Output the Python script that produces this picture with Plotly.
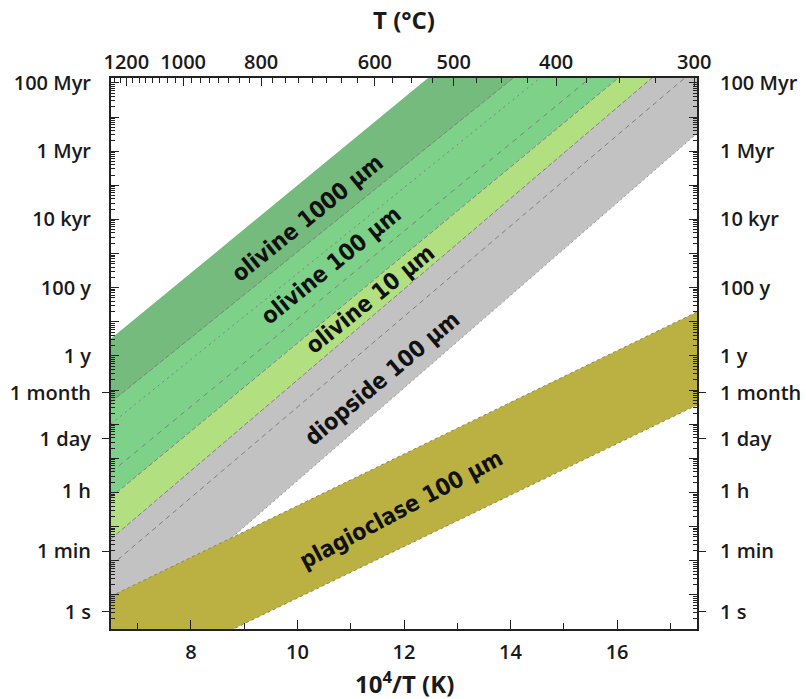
import math
import plotly.graph_objects as go

# ---------------- data ----------------
# x: 10^4/T (K); band edges given as log10(time / yr) at the two x ends
x_ends = [6.5, 17.5]
olivine_1000_upper = [0.50, 14.62]
olivine_1000_lower = [-1.35, 12.48]
olivine_100_dotted = [-1.99, 11.85]
olivine_100_dashed = [-3.41, 10.72]
olivine_10_upper = [-4.14, 10.05]
olivine_10_lower = [-5.36, 9.27]
diopside_mid = [-6.14, 8.45]
diopside_lower = [-8.40, 6.52]
plag_upper = [-7.04, 1.29]
plag_lower = [-9.73, -1.44]

bottom_ticks = [8, 10, 12, 14, 16]
bottom_minor = [7, 9, 11, 13, 15, 17]
top_T_C = [1200, 1000, 800, 600, 500, 400, 300]

time_labels = ['100 Myr', '1 Myr', '10 kyr', '100 y', '1 y', '1 month', '1 day', '1 h', '1 min', '1 s']
time_vals_yr = [1e8, 1e6, 1e4, 1e2, 1.0, 1 / 12, 10 ** -2.42, 1 / 8766, 1 / 525960, 1 / 31557600]
outside_tick_vals = [1 / 12, 10 ** -2.42, 1 / 525960, 1 / 31557600]

X_RANGE = [6.5, 17.5]
Y_RANGE = [-8.0, 8.143]

C_DARK = '#75BB7D'
C_MED = '#7ED189'
C_LIGHT = '#B2DF7F'
C_GRAY = '#C1C2C1'
C_PLAG = '#BBB143'
EDGE = '#808080'


def yr(v):
    return [10 ** a for a in v]


fig = go.Figure()


def band(upper, lower, color):
    u = yr(upper)
    l = yr(lower)
    fig.add_trace(go.Scatter(
        x=[x_ends[0], x_ends[1], x_ends[1], x_ends[0], x_ends[0]],
        y=[u[0], u[1], l[1], l[0], u[0]],
        fill='toself', fillcolor=color, mode='lines', line=dict(width=0),
        showlegend=False, hoverinfo='skip'))


def edge(vals, dash, color=EDGE, width=1):
    fig.add_trace(go.Scatter(
        x=x_ends, y=yr(vals), mode='lines',
        line=dict(color=color, width=width, dash=dash),
        showlegend=False, hoverinfo='skip'))


band(olivine_1000_upper, olivine_10_upper, C_MED)
band(olivine_1000_upper, olivine_1000_lower, C_DARK)
band(olivine_10_upper, olivine_10_lower, C_LIGHT)
band(olivine_10_lower, diopside_lower, C_GRAY)

edge(olivine_1000_lower, '5px,2px')
edge(olivine_100_dotted, '2px,4px')
edge(olivine_100_dashed, '5px,5px')
edge(olivine_10_upper, '5px,2px')
edge(olivine_10_lower, '5px,2px')
edge(diopside_mid, '5px,4px')
edge(diopside_lower, '2px,3px', '#9a9a9a')

band(plag_upper, plag_lower, C_PLAG)
edge(plag_upper, '3px,3px', '#8f8a40')
edge(plag_lower, '3px,3px', '#8f8a40')

# dummy traces to attach overlay axes
for ya in ['y2', 'y3', 'y4']:
    fig.add_trace(go.Scatter(x=[None], y=[None], yaxis=ya, showlegend=False, hoverinfo='skip'))
fig.add_trace(go.Scatter(x=[None], y=[None], xaxis='x2', showlegend=False, hoverinfo='skip'))

# tick positions
decades = [10.0 ** n for n in range(-8, 9)]
minor_vals = [k * 10.0 ** n for n in range(-9, 9) for k in range(2, 10)
              if Y_RANGE[0] <= math.log10(k * 10.0 ** n) <= Y_RANGE[1]]
top_pos = [1e4 / (t + 273.15) for t in top_T_C]
top_minor = [1e4 / (t + 273.15) for t in range(1250, 275, -25)
             if t not in top_T_C and X_RANGE[0] <= 1e4 / (t + 273.15) <= X_RANGE[1]]

TF = dict(family='Open Sans, sans-serif', size=20, color='#1a1a1a', weight=600)

fig.update_layout(
    width=806, height=699,
    margin=dict(l=111, r=109, t=78, b=70),
    paper_bgcolor='white', plot_bgcolor='white',
    xaxis=dict(range=X_RANGE, tickmode='array', tickvals=bottom_ticks,
               ticks='inside', ticklen=9, tickwidth=1.3, tickcolor='#222',
               minor=dict(tickmode='array', tickvals=bottom_minor, ticks='inside', ticklen=6,
                          tickwidth=1, tickcolor='#222'),
               showline=True, linecolor='#222', linewidth=2, mirror=True, automargin=False,
               showgrid=False, zeroline=False, tickfont=TF, ticklabelstandoff=4),
    xaxis2=dict(range=X_RANGE, overlaying='x', side='top', anchor='y', tickmode='array',
                tickvals=top_pos, ticktext=[str(t) for t in top_T_C], automargin=False,
                ticks='inside', ticklen=8, tickwidth=1.3, tickcolor='#222',
                minor=dict(tickmode='array', tickvals=top_minor, ticks='inside', ticklen=5,
                           tickwidth=1, tickcolor='#222'),
                showline=False, showgrid=False, zeroline=False, tickfont=TF, ticklabelstandoff=4),
    yaxis=dict(type='log', range=Y_RANGE, tickmode='array', tickvals=time_vals_yr,
               ticktext=time_labels, ticks='', showline=True, linecolor='#222', linewidth=2,
               mirror='ticks', showgrid=False, zeroline=False, tickfont=TF, automargin=False,
               ticklabelstandoff=14,
               minor=dict(tickmode='array', tickvals=minor_vals, ticks='inside', ticklen=4,
                          tickwidth=1, tickcolor='#222', showgrid=False)),
    yaxis2=dict(type='log', range=Y_RANGE, overlaying='y', side='left', anchor='x',
                tickmode='array', tickvals=decades, ticks='inside', ticklen=8, tickwidth=1.3,
                tickcolor='#222', showticklabels=False, showline=False, mirror='ticks',
                showgrid=False, zeroline=False, automargin=False),
    yaxis3=dict(type='log', range=Y_RANGE, overlaying='y', side='left', anchor='x',
                tickmode='array', tickvals=outside_tick_vals, ticks='outside', ticklen=8,
                tickwidth=1.3, tickcolor='#222', showticklabels=False, showline=False,
                mirror='ticks', showgrid=False, zeroline=False, automargin=False),
    yaxis4=dict(type='log', range=Y_RANGE, overlaying='y', side='right', anchor='x',
                tickmode='array', tickvals=time_vals_yr, ticktext=time_labels, ticks='',
                showline=False, showgrid=False, zeroline=False, tickfont=TF,
                automargin=False, ticklabelstandoff=22),
)

LF = dict(family='DejaVu Sans Condensed', size=23, color='#111', weight=700)
band_labels = [
    ('olivine 1000 µm', 10.18, 4.04, -39),
    ('olivine 100 µm', 10.63, 2.66, -39),
    ('olivine 10 µm', 11.36, 1.67, -39),
    ('diopside 100 µm', 11.59, -0.64, -40),
    ('plagioclase 100 µm', 11.95, -4.48, -28),
]
for txt, xx, yy, ang in band_labels:
    fig.add_annotation(x=xx, y=yy, xref='x', yref='y', text=txt, showarrow=False,
                       textangle=ang, font=LF, xanchor='center', yanchor='middle')

TTF = dict(family='Open Sans, sans-serif', size=24, color='#1a1a1a', weight=700)
fig.add_annotation(x=0.5, y=(629 - 19) / 551, xref='paper', yref='paper', text='T (°C)',
                   showarrow=False, font=TTF, xanchor='center', yanchor='middle')
fig.add_annotation(x=0.5, y=(629 - 682) / 551, xref='paper', yref='paper',
                   text='10<sup>4</sup>/T (K)', showarrow=False, font=TTF,
                   xanchor='center', yanchor='middle')

fig.write_html('out.html')
